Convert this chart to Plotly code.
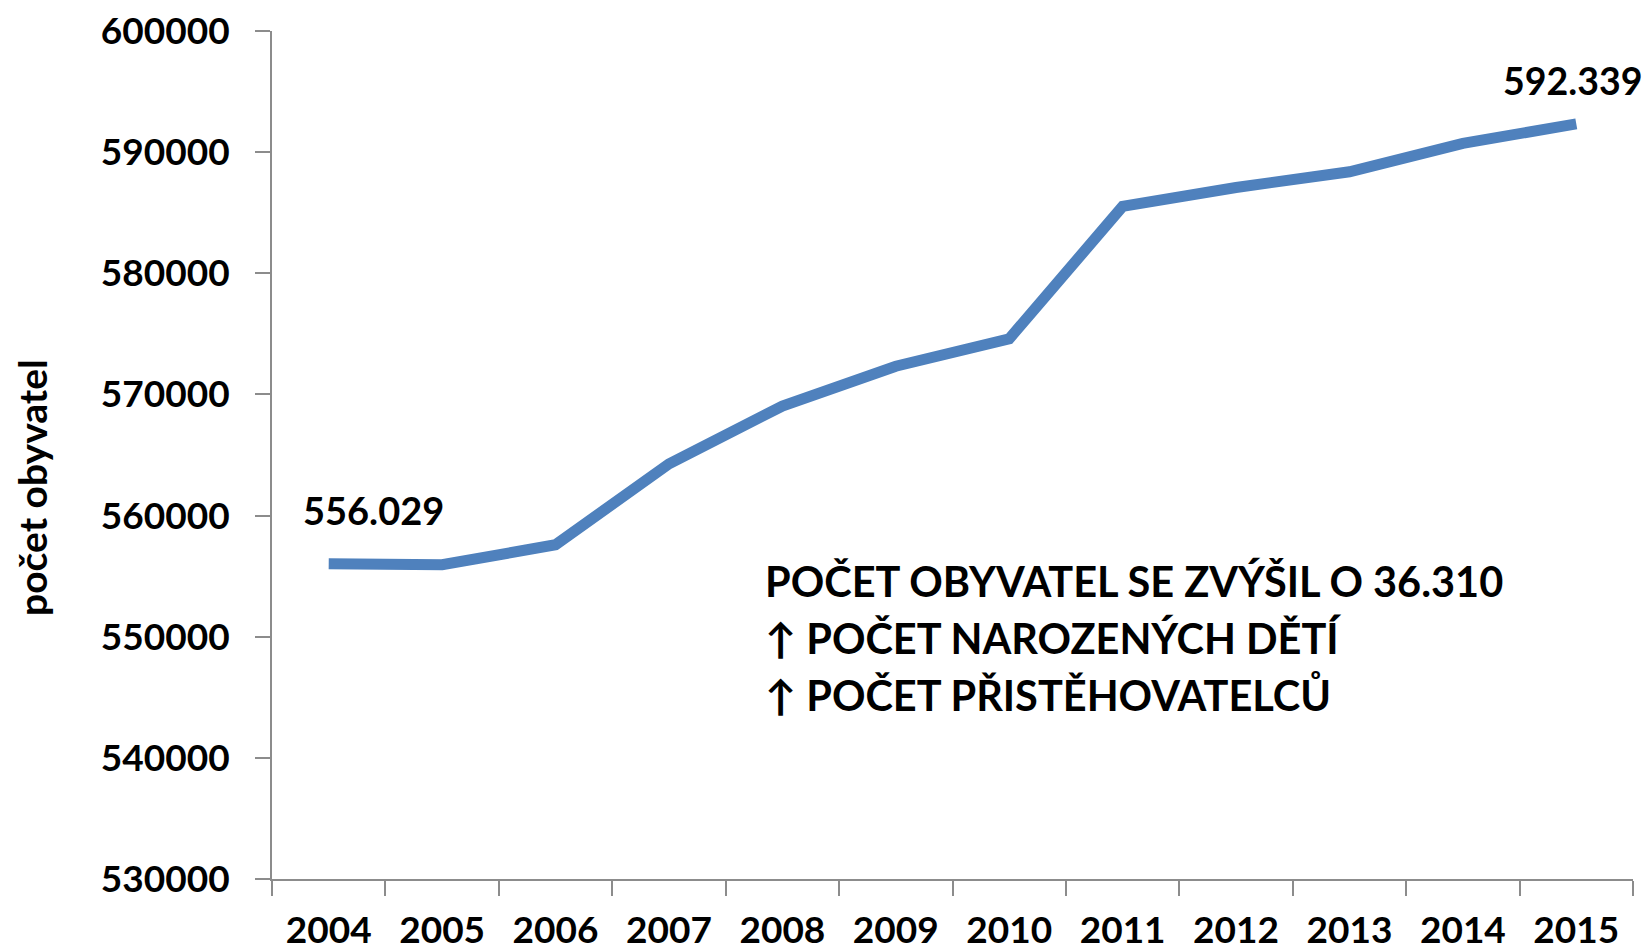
import plotly.graph_objects as go

years = ["2004", "2005", "2006", "2007", "2008", "2009", "2010", "2011", "2012", "2013", "2014", "2015"]
population = [556029, 555940, 557590, 564270, 569040, 572330, 574590, 585520, 587080, 588380, 590720, 592339]
y_ticks = [530000, 540000, 550000, 560000, 570000, 580000, 590000, 600000]
note_lines = ["POČET OBYVATEL SE ZVÝŠIL O 36.310", "↑ POČET NAROZENÝCH DĚTÍ", "↑ POČET PŘISTĚHOVATELCŮ"]
y_title = "počet obyvatel"

FONT = "Lato, 'Open Sans', sans-serif"
AXIS_COLOR = "#8c8c8c"

def fmt(v):
    return f"{v:,}".replace(",", ".")

W, H = 1650, 950
ML, MR, MT, MB = 264, 25, 23, 79
PW, PH = W - ML - MR, H - MT - MB

def px_x(x):  # screen x -> paper
    return (x - 8 - ML) / PW

def px_y(y):  # screen y -> paper
    return 1 - (y - 8 - MT) / PH

fig = go.Figure()
fig.add_trace(go.Scatter(
    x=years, y=population, mode="lines",
    line=dict(color="#4f81bd", width=11),
    hoverinfo="skip", showlegend=False,
))

# data labels on first and last point (x given as category index)
fig.add_annotation(x=0, y=population[0], xref="x", yref="y", text="<b>" + fmt(population[0]) + "</b>",
                   showarrow=False, xshift=45, yshift=54,
                   font=dict(family=FONT, size=38, color="black"))
fig.add_annotation(x=len(years) - 1, y=population[-1], xref="x", yref="y", text="<b>" + fmt(population[-1]) + "</b>",
                   showarrow=False, xshift=-4, yshift=43,
                   font=dict(family=FONT, size=37.5, color="black"))

# note block, one annotation per line
for i, (line, ys) in enumerate(zip(note_lines, [581, 638, 695])):
    fig.add_annotation(x=px_x(763), y=px_y(ys), xref="paper", yref="paper", xanchor="left", yanchor="middle",
                       align="left", text="<b>" + line + "</b>", showarrow=False,
                       font=dict(family=FONT, size=41.5, color="black"))

# y axis title
fig.add_annotation(x=px_x(32), y=px_y(487), xref="paper", yref="paper", text="<b>" + y_title + "</b>", textangle=-90,
                   showarrow=False, xanchor="center", yanchor="middle",
                   font=dict(family=FONT, size=39, color="black"))

fig.update_xaxes(
    type="category", categoryorder="array", categoryarray=years,
    range=[-0.5, len(years) - 0.5], automargin=False,
    showgrid=False, showline=True, linecolor=AXIS_COLOR, linewidth=2,
    ticks="outside", tickson="boundaries", ticklen=15, tickcolor=AXIS_COLOR, tickwidth=2,
    tickangle=0, ticklabeloverflow="allow",
    tickfont=dict(family=FONT, size=37, color="black", weight="bold"),
    ticklabelstandoff=18, zeroline=False,
)
fig.update_yaxes(
    range=[530000, 600000], tickvals=y_ticks, ticktext=[str(v) for v in y_ticks],
    automargin=False, ticklabeloverflow="allow",
    showgrid=False, showline=True, linecolor=AXIS_COLOR, linewidth=2,
    ticks="outside", ticklen=15, tickcolor=AXIS_COLOR, tickwidth=2,
    tickfont=dict(family=FONT, size=37, color="black", weight="bold"),
    ticklabelstandoff=18, zeroline=False,
)

fig.update_layout(
    width=W, height=H,
    margin=dict(l=ML, r=MR, t=MT, b=MB, pad=0),
    plot_bgcolor="white", paper_bgcolor="white",
)

fig.write_html("out.html")
